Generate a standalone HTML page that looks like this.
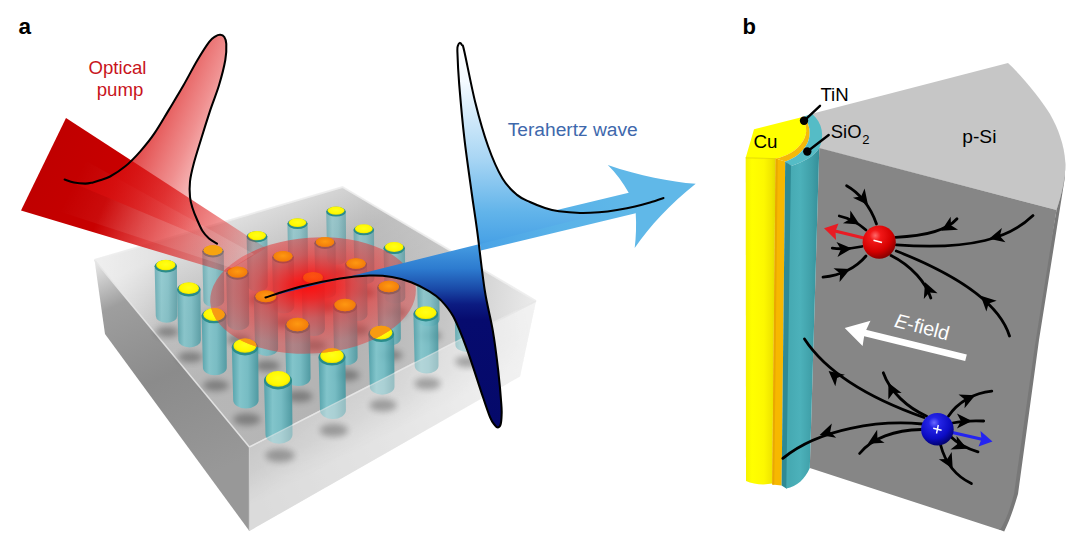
<!DOCTYPE html>
<html lang="en">
<head>
<meta charset="utf-8">
<title>Figure</title>
<style>
html,body{margin:0;padding:0;background:#fff;}
body{width:1080px;height:553px;overflow:hidden;position:relative;font-family:"Liberation Sans",Arial,sans-serif;}
svg{position:absolute;left:0;top:0;display:block;}
text{font-family:"Liberation Sans",Arial,sans-serif;}
</style>
</head>
<body>
<svg width="1080" height="553" viewBox="0 0 1080 553">
<defs>
  <filter id="blur3" x="-50%" y="-50%" width="200%" height="200%"><feGaussianBlur stdDeviation="3"/></filter>
  <filter id="blur2" x="-50%" y="-50%" width="200%" height="200%"><feGaussianBlur stdDeviation="1.6"/></filter>
  <filter id="blur6" x="-50%" y="-50%" width="200%" height="200%"><feGaussianBlur stdDeviation="6"/></filter>
  <linearGradient id="gTeal" x1="0" x2="1" y1="0" y2="0">
    <stop offset="0" stop-color="#4a9fa8"/>
    <stop offset="0.3" stop-color="#7cc6cd"/>
    <stop offset="0.6" stop-color="#70bdc5"/>
    <stop offset="1" stop-color="#44969f"/>
  </linearGradient>
  <radialGradient id="gYel" cx="0.5" cy="0.45" r="0.6">
    <stop offset="0" stop-color="#ffff1a"/>
    <stop offset="0.7" stop-color="#fff800"/>
    <stop offset="1" stop-color="#e2d800"/>
  </radialGradient>
  <radialGradient id="gOr" cx="0.5" cy="0.45" r="0.6">
    <stop offset="0" stop-color="#ff9a10"/>
    <stop offset="1" stop-color="#f07808"/>
  </radialGradient>
  <!-- glass box -->
  <linearGradient id="gTop" gradientUnits="userSpaceOnUse" x1="95" y1="260" x2="536" y2="301">
    <stop offset="0" stop-color="#dcdcdc"/>
    <stop offset="0.18" stop-color="#b8b8b8"/>
    <stop offset="0.6" stop-color="#b3b3b3"/>
    <stop offset="0.8" stop-color="#c6c6c6"/>
    <stop offset="1" stop-color="#ebebeb"/>
  </linearGradient>
  <linearGradient id="gTopHi" gradientUnits="userSpaceOnUse" x1="300" y1="330" x2="245" y2="215">
    <stop offset="0" stop-color="#fff" stop-opacity="0"/>
    <stop offset="0.5" stop-color="#fff" stop-opacity="0.10"/>
    <stop offset="1" stop-color="#fff" stop-opacity="0.55"/>
  </linearGradient>
  <linearGradient id="gLeft" gradientUnits="userSpaceOnUse" x1="95" y1="262" x2="200" y2="480">
    <stop offset="0" stop-color="#e8e8e8"/>
    <stop offset="0.2" stop-color="#9e9e9e"/>
    <stop offset="0.55" stop-color="#8b8b8b"/>
    <stop offset="1" stop-color="#989898"/>
  </linearGradient>
  <linearGradient id="gFront" gradientUnits="userSpaceOnUse" x1="250" y1="480" x2="530" y2="340">
    <stop offset="0" stop-color="#d2d2d2"/>
    <stop offset="0.5" stop-color="#e4e4e4"/>
    <stop offset="0.85" stop-color="#f6f6f6"/>
    <stop offset="1" stop-color="#fcfcfc"/>
  </linearGradient>
  <linearGradient id="gFrontBand" gradientUnits="userSpaceOnUse" x1="250" y1="447" x2="536" y2="301">
    <stop offset="0" stop-color="#bdbdbd"/>
    <stop offset="0.55" stop-color="#cfcfcf"/>
    <stop offset="0.85" stop-color="#ececec"/>
    <stop offset="1" stop-color="#f8f8f8"/>
  </linearGradient>
  <linearGradient id="gFrontFade" gradientUnits="userSpaceOnUse" x1="380" y1="380" x2="404" y2="427">
    <stop offset="0" stop-color="#8c8c8c" stop-opacity="0.5"/>
    <stop offset="0.45" stop-color="#8c8c8c" stop-opacity="0.34"/>
    <stop offset="0.8" stop-color="#8c8c8c" stop-opacity="0.1"/>
    <stop offset="1" stop-color="#8c8c8c" stop-opacity="0"/>
  </linearGradient>
  <linearGradient id="gFrontMask" gradientUnits="userSpaceOnUse" x1="250" y1="447" x2="536" y2="301">
    <stop offset="0" stop-color="#fff"/>
    <stop offset="0.5" stop-color="#bbb"/>
    <stop offset="0.85" stop-color="#333"/>
    <stop offset="1" stop-color="#000"/>
  </linearGradient>
  <mask id="mFront" maskUnits="userSpaceOnUse" x="240" y="290" width="310" height="250"><rect x="240" y="290" width="310" height="250" fill="url(#gFrontMask)"/></mask>
  <!-- red beam -->
  <linearGradient id="gBeam" gradientUnits="userSpaceOnUse" x1="44" y1="164" x2="262" y2="262">
    <stop offset="0" stop-color="#c00000" stop-opacity="1"/>
    <stop offset="0.3" stop-color="#c80000" stop-opacity="1"/>
    <stop offset="0.55" stop-color="#d80808" stop-opacity="0.72"/>
    <stop offset="0.8" stop-color="#e01010" stop-opacity="0.42"/>
    <stop offset="1" stop-color="#e81818" stop-opacity="0.12"/>
  </linearGradient>
  <linearGradient id="gBeamHi" gradientUnits="userSpaceOnUse" x1="80" y1="170" x2="240" y2="250">
    <stop offset="0" stop-color="#fff" stop-opacity="0"/>
    <stop offset="0.45" stop-color="#fff" stop-opacity="0.10"/>
    <stop offset="1" stop-color="#fff" stop-opacity="0.14"/>
  </linearGradient>
  <linearGradient id="gRedPulse" gradientUnits="userSpaceOnUse" x1="64" y1="180" x2="217" y2="244">
    <stop offset="0" stop-color="#d00000" stop-opacity="0.95"/>
    <stop offset="0.3" stop-color="#d81010" stop-opacity="0.8"/>
    <stop offset="0.6" stop-color="#e02020" stop-opacity="0.5"/>
    <stop offset="0.85" stop-color="#e83030" stop-opacity="0.18"/>
    <stop offset="1" stop-color="#f04040" stop-opacity="0.05"/>
  </linearGradient>
  <radialGradient id="gDisc" cx="0.49" cy="0.42" r="0.5">
    <stop offset="0" stop-color="#ff0a0a" stop-opacity="0.97"/>
    <stop offset="0.22" stop-color="#fa1414" stop-opacity="0.88"/>
    <stop offset="0.55" stop-color="#ec2c2c" stop-opacity="0.66"/>
    <stop offset="1" stop-color="#e23a3a" stop-opacity="0.47"/>
  </radialGradient>
  <!-- blue -->
  <linearGradient id="gBluePulse" gradientUnits="userSpaceOnUse" x1="0" y1="43" x2="0" y2="427">
    <stop offset="0" stop-color="#ffffff"/>
    <stop offset="0.10" stop-color="#f4faff"/>
    <stop offset="0.30" stop-color="#a9d6f4"/>
    <stop offset="0.44" stop-color="#62b4ea"/>
    <stop offset="0.513" stop-color="#4aa3e6"/>
    <stop offset="0.588" stop-color="#2d7bcf"/>
    <stop offset="0.64" stop-color="#1a4aa8"/>
    <stop offset="0.68" stop-color="#0c1c82"/>
    <stop offset="0.72" stop-color="#060b6e"/>
    <stop offset="1" stop-color="#05096a"/>
  </linearGradient>
  <linearGradient id="gBlueBeam" gradientUnits="userSpaceOnUse" x1="478" y1="240" x2="636" y2="204">
    <stop offset="0" stop-color="#4aa3e6"/>
    <stop offset="0.5" stop-color="#59b2e8"/>
    <stop offset="1" stop-color="#60b8e8"/>
  </linearGradient>
  <!-- panel b -->
  <linearGradient id="gCuSide" gradientUnits="userSpaceOnUse" x1="746" y1="0" x2="776" y2="0">
    <stop offset="0" stop-color="#f6f200"/>
    <stop offset="0.2" stop-color="#ffff00"/>
    <stop offset="0.6" stop-color="#fdf800"/>
    <stop offset="0.85" stop-color="#f0e600"/>
    <stop offset="1" stop-color="#e2d600"/>
  </linearGradient>
  <linearGradient id="gTealSide" gradientUnits="userSpaceOnUse" x1="790" y1="0" x2="819" y2="0">
    <stop offset="0" stop-color="#46aab3"/>
    <stop offset="0.35" stop-color="#4cb1ba"/>
    <stop offset="0.75" stop-color="#3f9fa8"/>
    <stop offset="1" stop-color="#358f99"/>
  </linearGradient>
  <radialGradient id="gRedBall" cx="0.38" cy="0.3" r="0.75">
    <stop offset="0" stop-color="#ff6a6a"/>
    <stop offset="0.22" stop-color="#f21818"/>
    <stop offset="0.65" stop-color="#d40000"/>
    <stop offset="1" stop-color="#7c0000"/>
  </radialGradient>
  <radialGradient id="gBlueBall" cx="0.4" cy="0.3" r="0.75">
    <stop offset="0" stop-color="#6a6aff"/>
    <stop offset="0.22" stop-color="#2424e6"/>
    <stop offset="0.65" stop-color="#0c0cc4"/>
    <stop offset="1" stop-color="#000060"/>
  </radialGradient>
  <path id="ah" d="M1.5,0 L-7.6,-4.5 L-5.2,0 L-7.6,4.5 Z"/>
</defs>
<rect width="1080" height="553" fill="#fff"/>

<g id="panelA">
<polygon points="342.5,187 536,301 520,377 345,262" fill="#f6f6f6" opacity="0.6"/>
<polygon points="94.5,260 249.4,447 249.4,531 105,334" fill="url(#gLeft)"/>
<polygon points="249.4,447 536,301 520,376.5 249.4,531" fill="url(#gFront)"/>
<polygon points="249.4,447 536,301 520,376.5 249.4,531" fill="url(#gFrontFade)" mask="url(#mFront)"/>
<polygon points="94.5,260 342.5,187 536,301 249.4,447" fill="url(#gTop)"/>
<polygon points="94.5,260 342.5,187 536,301 249.4,447" fill="url(#gTopHi)"/>
<polyline points="94.5,260 249.4,447 536,301" fill="none" stroke="#e4e4e4" stroke-width="1.6" opacity="0.9"/>
<polyline points="94.5,260 342.5,187 536,301" fill="none" stroke="#ededed" stroke-width="2" opacity="0.9"/>
<line x1="249.4" y1="447" x2="249.4" y2="531" stroke="#c9c9c9" stroke-width="1.2"/>
<ellipse cx="167.3" cy="331.9" rx="11.6" ry="5.2" fill="#000" opacity="0.3" filter="url(#blur3)"/>
<ellipse cx="214.5" cy="315.9" rx="11.2" ry="5.0" fill="#000" opacity="0.3" filter="url(#blur3)"/>
<ellipse cx="258.5" cy="299.9" rx="10.8" ry="4.8" fill="#000" opacity="0.3" filter="url(#blur3)"/>
<ellipse cx="298.9" cy="285.8" rx="10.5" ry="4.7" fill="#000" opacity="0.3" filter="url(#blur3)"/>
<ellipse cx="337.4" cy="272.8" rx="10.1" ry="4.5" fill="#000" opacity="0.3" filter="url(#blur3)"/>
<ellipse cx="190.4" cy="357.1" rx="12.2" ry="5.4" fill="#000" opacity="0.3" filter="url(#blur3)"/>
<ellipse cx="239.1" cy="339.5" rx="11.7" ry="5.3" fill="#000" opacity="0.3" filter="url(#blur3)"/>
<ellipse cx="284.6" cy="322.4" rx="11.3" ry="5.1" fill="#000" opacity="0.3" filter="url(#blur3)"/>
<ellipse cx="326.5" cy="306.9" rx="11.0" ry="4.9" fill="#000" opacity="0.3" filter="url(#blur3)"/>
<ellipse cx="365.2" cy="292.6" rx="10.6" ry="4.8" fill="#000" opacity="0.3" filter="url(#blur3)"/>
<ellipse cx="215.8" cy="385.5" rx="12.8" ry="5.8" fill="#000" opacity="0.3" filter="url(#blur3)"/>
<ellipse cx="267.5" cy="365.8" rx="12.4" ry="5.5" fill="#000" opacity="0.3" filter="url(#blur3)"/>
<ellipse cx="314.6" cy="345.4" rx="11.9" ry="5.3" fill="#000" opacity="0.3" filter="url(#blur3)"/>
<ellipse cx="357.6" cy="330.3" rx="11.5" ry="5.2" fill="#000" opacity="0.3" filter="url(#blur3)"/>
<ellipse cx="395.8" cy="312.4" rx="11.1" ry="5.0" fill="#000" opacity="0.3" filter="url(#blur3)"/>
<ellipse cx="246.9" cy="419.4" rx="13.6" ry="6.1" fill="#000" opacity="0.3" filter="url(#blur3)"/>
<ellipse cx="299.3" cy="396.4" rx="13.1" ry="5.9" fill="#000" opacity="0.3" filter="url(#blur3)"/>
<ellipse cx="346.7" cy="375.2" rx="12.6" ry="5.6" fill="#000" opacity="0.3" filter="url(#blur3)"/>
<ellipse cx="390.4" cy="355.2" rx="12.1" ry="5.4" fill="#000" opacity="0.3" filter="url(#blur3)"/>
<ellipse cx="429.6" cy="335.7" rx="11.6" ry="5.2" fill="#000" opacity="0.3" filter="url(#blur3)"/>
<ellipse cx="280.0" cy="455.5" rx="14.5" ry="6.5" fill="#000" opacity="0.3" filter="url(#blur3)"/>
<ellipse cx="333.9" cy="430.3" rx="13.9" ry="6.2" fill="#000" opacity="0.3" filter="url(#blur3)"/>
<ellipse cx="383.1" cy="405.3" rx="13.3" ry="6.0" fill="#000" opacity="0.3" filter="url(#blur3)"/>
<ellipse cx="427.5" cy="383.6" rx="12.8" ry="5.7" fill="#000" opacity="0.3" filter="url(#blur3)"/>
<ellipse cx="467.7" cy="361.7" rx="12.3" ry="5.5" fill="#000" opacity="0.3" filter="url(#blur3)"/>
<path d="M326.2,211.0 L327.2,259.5 A8.8,4.9 0 0 0 346.2,259.5 L345.8,211.0 Z" fill="url(#gTeal)" opacity="0.60"/>
<ellipse cx="336.0" cy="211.7" rx="9.8" ry="4.9" fill="#2a8c8a"/><ellipse cx="336.0" cy="210.6" rx="8.5" ry="4.1" fill="url(#gYel)"/>
<path d="M287.4,223.0 L288.5,272.0 A9.1,5.2 0 0 0 308.0,272.0 L307.6,223.0 Z" fill="url(#gTeal)" opacity="0.63"/>
<ellipse cx="297.5" cy="223.7" rx="10.1" ry="5.2" fill="#2a8c8a"/><ellipse cx="297.5" cy="222.6" rx="8.8" ry="4.4" fill="url(#gYel)"/>
<path d="M353.5,229.2 L354.6,278.5 A9.3,5.3 0 0 0 374.4,278.5 L374.0,229.2 Z" fill="url(#gTeal)" opacity="0.65"/>
<ellipse cx="363.8" cy="230.0" rx="10.3" ry="5.3" fill="#2a8c8a"/><ellipse cx="363.8" cy="228.8" rx="8.9" ry="4.5" fill="url(#gYel)"/>
<path d="M246.6,236.0 L247.7,285.5 A9.4,5.5 0 0 0 267.8,285.5 L267.4,236.0 Z" fill="url(#gTeal)" opacity="0.66"/>
<ellipse cx="257.0" cy="236.7" rx="10.4" ry="5.5" fill="#2a8c8a"/><ellipse cx="257.0" cy="235.6" rx="9.1" ry="4.7" fill="url(#gYel)"/>
<path d="M314.4,242.5 L315.6,292.2 A9.6,5.7 0 0 0 336.0,292.2 L335.6,242.5 Z" fill="url(#gTeal)" opacity="0.68"/>
<ellipse cx="325.0" cy="243.3" rx="10.6" ry="5.7" fill="#2a8c8a"/><ellipse cx="325.0" cy="242.0" rx="9.2" ry="4.8" fill="url(#gYel)"/>
<path d="M383.5,247.5 L384.7,297.4 A9.7,5.8 0 0 0 405.3,297.4 L405.0,247.5 Z" fill="url(#gTeal)" opacity="0.69"/>
<ellipse cx="394.2" cy="248.3" rx="10.7" ry="5.8" fill="#2a8c8a"/><ellipse cx="394.2" cy="247.0" rx="9.3" ry="4.9" fill="url(#gYel)"/>
<path d="M202.2,250.8 L203.4,300.8 A9.8,5.9 0 0 0 224.2,300.8 L223.8,250.8 Z" fill="url(#gTeal)" opacity="0.70"/>
<ellipse cx="213.0" cy="251.5" rx="10.8" ry="5.9" fill="#2a8c8a"/><ellipse cx="213.0" cy="250.3" rx="9.4" ry="5.0" fill="url(#gYel)"/>
<path d="M272.1,256.8 L273.2,307.0 A9.9,6.0 0 0 0 294.3,307.0 L293.9,256.8 Z" fill="url(#gTeal)" opacity="0.71"/>
<ellipse cx="283.0" cy="257.5" rx="10.9" ry="6.0" fill="#2a8c8a"/><ellipse cx="283.0" cy="256.3" rx="9.5" ry="5.2" fill="url(#gYel)"/>
<path d="M344.9,264.0 L346.1,314.5 A10.1,6.2 0 0 0 367.5,314.5 L367.1,264.0 Z" fill="url(#gTeal)" opacity="0.73"/>
<ellipse cx="356.0" cy="264.8" rx="11.1" ry="6.2" fill="#2a8c8a"/><ellipse cx="356.0" cy="263.5" rx="9.7" ry="5.3" fill="url(#gYel)"/>
<path d="M154.6,265.5 L155.8,316.1 A10.2,6.2 0 0 0 177.3,316.1 L176.9,265.5 Z" fill="url(#gTeal)" opacity="0.74"/>
<ellipse cx="165.8" cy="266.3" rx="11.2" ry="6.2" fill="#2a8c8a"/><ellipse cx="165.8" cy="265.0" rx="9.7" ry="5.3" fill="url(#gYel)"/>
<path d="M416.8,269.0 L418.0,319.7 A10.2,6.3 0 0 0 439.6,319.7 L439.2,269.0 Z" fill="url(#gTeal)" opacity="0.74"/>
<ellipse cx="428.0" cy="269.8" rx="11.2" ry="6.3" fill="#2a8c8a"/><ellipse cx="428.0" cy="268.5" rx="9.8" ry="5.4" fill="url(#gYel)"/>
<path d="M226.2,272.5 L227.4,323.4 A10.3,6.4 0 0 0 249.2,323.4 L248.8,272.5 Z" fill="url(#gTeal)" opacity="0.75"/>
<ellipse cx="237.5" cy="273.3" rx="11.3" ry="6.4" fill="#2a8c8a"/><ellipse cx="237.5" cy="272.0" rx="9.9" ry="5.5" fill="url(#gYel)"/>
<path d="M301.5,278.0 L302.8,329.1 A10.5,6.5 0 0 0 324.9,329.1 L324.5,278.0 Z" fill="url(#gTeal)" opacity="0.77"/>
<ellipse cx="313.0" cy="278.8" rx="11.5" ry="6.5" fill="#2a8c8a"/><ellipse cx="313.0" cy="277.5" rx="10.0" ry="5.6" fill="url(#gYel)"/>
<path d="M377.1,287.0 L378.3,338.4 A10.7,6.7 0 0 0 400.9,338.4 L400.4,287.0 Z" fill="url(#gTeal)" opacity="0.79"/>
<ellipse cx="388.8" cy="287.8" rx="11.7" ry="6.7" fill="#2a8c8a"/><ellipse cx="388.8" cy="286.5" rx="10.2" ry="5.8" fill="url(#gYel)"/>
<path d="M177.0,288.8 L178.3,340.2 A10.7,6.8 0 0 0 200.9,340.2 L200.5,288.8 Z" fill="url(#gTeal)" opacity="0.79"/>
<ellipse cx="188.8" cy="289.6" rx="11.7" ry="6.8" fill="#2a8c8a"/><ellipse cx="188.8" cy="288.2" rx="10.2" ry="5.9" fill="url(#gYel)"/>
<path d="M454.2,293.0 L455.4,344.7 A10.8,6.9 0 0 0 478.3,344.7 L477.8,293.0 Z" fill="url(#gTeal)" opacity="0.80"/>
<ellipse cx="466.0" cy="293.8" rx="11.8" ry="6.9" fill="#2a8c8a"/><ellipse cx="466.0" cy="292.5" rx="10.3" ry="6.0" fill="url(#gYel)"/>
<path d="M253.8,296.8 L255.1,348.5 A10.9,7.0 0 0 0 278.1,348.5 L277.7,296.8 Z" fill="url(#gTeal)" opacity="0.81"/>
<ellipse cx="265.8" cy="297.6" rx="11.9" ry="7.0" fill="#2a8c8a"/><ellipse cx="265.8" cy="296.2" rx="10.4" ry="6.0" fill="url(#gYel)"/>
<path d="M332.9,305.5 L334.2,357.6 A11.1,7.2 0 0 0 357.6,357.6 L357.1,305.5 Z" fill="url(#gTeal)" opacity="0.84"/>
<ellipse cx="345.0" cy="306.4" rx="12.1" ry="7.2" fill="#2a8c8a"/><ellipse cx="345.0" cy="305.0" rx="10.6" ry="6.2" fill="url(#gYel)"/>
<path d="M413.4,313.2 L414.7,365.7 A11.3,7.4 0 0 0 438.5,365.7 L438.1,313.2 Z" fill="url(#gTeal)" opacity="0.86"/>
<ellipse cx="425.8" cy="314.1" rx="12.3" ry="7.4" fill="#2a8c8a"/><ellipse cx="425.8" cy="312.7" rx="10.8" ry="6.4" fill="url(#gYel)"/>
<path d="M201.6,315.0 L202.9,367.5 A11.4,7.4 0 0 0 226.8,367.5 L226.4,315.0 Z" fill="url(#gTeal)" opacity="0.86"/>
<ellipse cx="214.0" cy="315.9" rx="12.4" ry="7.4" fill="#2a8c8a"/><ellipse cx="214.0" cy="314.5" rx="10.8" ry="6.5" fill="url(#gYel)"/>
<path d="M284.9,325.0 L286.2,377.9 A11.6,7.7 0 0 0 310.6,377.9 L310.1,325.0 Z" fill="url(#gTeal)" opacity="0.89"/>
<ellipse cx="297.5" cy="325.9" rx="12.6" ry="7.7" fill="#2a8c8a"/><ellipse cx="297.5" cy="324.5" rx="11.0" ry="6.7" fill="url(#gYel)"/>
<path d="M368.4,333.2 L369.8,386.5 A11.8,7.9 0 0 0 394.5,386.5 L394.1,333.2 Z" fill="url(#gTeal)" opacity="0.90"/>
<ellipse cx="381.2" cy="334.2" rx="12.8" ry="7.9" fill="#2a8c8a"/><ellipse cx="381.2" cy="332.7" rx="11.2" ry="6.9" fill="url(#gYel)"/>
<path d="M231.8,346.2 L233.2,400.0 A12.2,8.2 0 0 0 258.6,400.0 L258.2,346.2 Z" fill="url(#gTeal)" opacity="0.90"/>
<ellipse cx="245.0" cy="347.2" rx="13.2" ry="8.2" fill="#2a8c8a"/><ellipse cx="245.0" cy="345.7" rx="11.5" ry="7.1" fill="url(#gYel)"/>
<path d="M318.6,356.2 L320.0,410.3 A12.4,8.4 0 0 0 345.9,410.3 L345.4,356.2 Z" fill="url(#gTeal)" opacity="0.90"/>
<ellipse cx="332.0" cy="357.2" rx="13.4" ry="8.4" fill="#2a8c8a"/><ellipse cx="332.0" cy="355.7" rx="11.7" ry="7.4" fill="url(#gYel)"/>
<path d="M264.0,379.5 L265.5,434.5 A13.0,9.0 0 0 0 292.5,434.5 L292.0,379.5 Z" fill="url(#gTeal)" opacity="0.90"/>
<ellipse cx="278.0" cy="380.5" rx="14.0" ry="9.0" fill="#2a8c8a"/><ellipse cx="278.0" cy="378.9" rx="12.2" ry="7.9" fill="url(#gYel)"/>
<polygon points="249.4,447 536,301 520,376.5 249.4,531" fill="#e6e6e6" opacity="0.45"/>
<polyline points="249.4,447 536,301" fill="none" stroke="#e8e8e8" stroke-width="1.2" opacity="0.55"/>
<ellipse cx="280.0" cy="455.5" rx="14.5" ry="6.5" fill="#000" opacity="0.14" filter="url(#blur3)"/>
<ellipse cx="333.9" cy="430.3" rx="13.9" ry="6.2" fill="#000" opacity="0.14" filter="url(#blur3)"/>
<ellipse cx="383.1" cy="405.3" rx="13.3" ry="6.0" fill="#000" opacity="0.14" filter="url(#blur3)"/>
<ellipse cx="427.5" cy="383.6" rx="12.8" ry="5.7" fill="#000" opacity="0.14" filter="url(#blur3)"/>
<ellipse cx="467.7" cy="361.7" rx="12.3" ry="5.5" fill="#000" opacity="0.14" filter="url(#blur3)"/>
<ellipse cx="313" cy="295.5" rx="103" ry="58" fill="url(#gDisc)" transform="rotate(-4 313 295)"/>
<ellipse cx="237.5" cy="272.0" rx="9.9" ry="5.5" fill="url(#gOr)" opacity="0.95"/>
<ellipse cx="283.0" cy="256.3" rx="9.5" ry="5.2" fill="url(#gOr)" opacity="0.95"/>
<ellipse cx="325.0" cy="242.0" rx="9.2" ry="4.8" fill="url(#gOr)" opacity="0.95"/>
<ellipse cx="265.8" cy="296.2" rx="10.4" ry="6.0" fill="url(#gOr)" opacity="0.95"/>
<ellipse cx="313.0" cy="277.5" rx="10.0" ry="5.6" fill="url(#gOr)" opacity="0.35"/>
<ellipse cx="356.0" cy="263.5" rx="9.7" ry="5.3" fill="url(#gOr)" opacity="0.95"/>
<ellipse cx="297.5" cy="324.5" rx="11.0" ry="6.7" fill="url(#gOr)" opacity="0.95"/>
<ellipse cx="345.0" cy="305.0" rx="10.6" ry="6.2" fill="url(#gOr)" opacity="0.95"/>
<ellipse cx="388.8" cy="286.5" rx="10.2" ry="5.8" fill="url(#gOr)" opacity="0.95"/>
<clipPath id="cDisc"><ellipse cx="313" cy="295.5" rx="103" ry="58" transform="rotate(-4 313 295)"/></clipPath>
<g clip-path="url(#cDisc)">
<ellipse cx="257.0" cy="235.6" rx="9.1" ry="4.7" fill="#f89a10" opacity="0.9"/>
<ellipse cx="297.5" cy="222.6" rx="8.8" ry="4.4" fill="#f89a10" opacity="0.9"/>
<ellipse cx="214.0" cy="314.5" rx="10.8" ry="6.5" fill="#f89a10" opacity="0.9"/>
<ellipse cx="428.0" cy="268.5" rx="9.8" ry="5.4" fill="#f89a10" opacity="0.9"/>
<ellipse cx="381.2" cy="332.7" rx="11.2" ry="6.9" fill="#f89a10" opacity="0.9"/>
<ellipse cx="332.0" cy="355.7" rx="11.7" ry="7.4" fill="#f89a10" opacity="0.9"/>
<ellipse cx="363.8" cy="228.8" rx="8.9" ry="4.5" fill="#f89a10" opacity="0.9"/>
<ellipse cx="394.2" cy="247.0" rx="9.3" ry="4.9" fill="#f89a10" opacity="0.9"/>
<ellipse cx="213.0" cy="250.3" rx="9.4" ry="5.0" fill="#f89a10" opacity="0.9"/>
<ellipse cx="188.8" cy="288.2" rx="10.2" ry="5.9" fill="#f89a10" opacity="0.9"/>
<ellipse cx="245.0" cy="345.7" rx="11.5" ry="7.1" fill="#f89a10" opacity="0.9"/>
<ellipse cx="425.8" cy="312.7" rx="10.8" ry="6.4" fill="#f89a10" opacity="0.9"/>
</g>
<polygon points="66,118 21,210.5 226,272 266,248" fill="url(#gBeam)"/>
<polygon points="66,150 40,205 232,268 254,254" fill="url(#gBeamHi)"/>
<ellipse cx="213.0" cy="250.3" rx="9.4" ry="5.0" fill="#f7a410"/>
<path d="M64.6,179.5 C66.2,180.0 70.5,181.9 74.0,182.6 C77.5,183.3 82.1,183.6 85.3,183.6 C88.5,183.6 90.5,182.9 93.0,182.4 C95.5,181.9 97.2,181.3 100.0,180.3 C102.8,179.3 105.9,178.8 110.1,176.5 C114.3,174.2 120.2,170.5 125.3,166.3 C130.4,162.1 135.7,156.6 140.5,151.1 C145.3,145.6 149.8,140.2 154.4,133.4 C159.1,126.7 163.6,118.6 168.4,110.6 C173.2,102.6 178.7,93.7 183.5,85.3 C188.3,76.9 193.2,67.2 197.5,60.0 C201.8,52.8 206.2,45.9 209.2,41.9 C212.2,37.9 213.7,37.5 215.5,36.3 C217.3,35.1 218.8,34.7 220.3,34.8 C221.8,34.9 223.3,35.5 224.3,37.0 C225.3,38.5 226.1,40.1 226.3,43.9 C226.5,47.7 226.5,53.1 225.3,60.0 C224.1,66.9 221.5,76.9 219.0,85.3 C216.5,93.7 213.0,101.7 210.1,110.6 C207.2,119.5 204.0,129.6 201.3,138.5 C198.6,147.4 195.6,156.6 193.7,163.8 C191.8,171.0 190.6,176.0 190.0,181.5 C189.4,187.0 189.6,192.6 190.0,197.0 C190.4,201.4 191.3,204.2 192.5,208.0 C193.7,211.8 195.3,215.7 197.0,219.5 C198.7,223.3 200.5,227.8 202.5,231.0 C204.5,234.2 206.6,236.4 209.0,238.5 C211.4,240.6 215.7,242.8 217.0,243.6 Z" fill="url(#gRedPulse)"/>
<path d="M64.6,179.5 C66.2,180.0 70.5,181.9 74.0,182.6 C77.5,183.3 82.1,183.6 85.3,183.6 C88.5,183.6 90.5,182.9 93.0,182.4 C95.5,181.9 97.2,181.3 100.0,180.3 C102.8,179.3 105.9,178.8 110.1,176.5 C114.3,174.2 120.2,170.5 125.3,166.3 C130.4,162.1 135.7,156.6 140.5,151.1 C145.3,145.6 149.8,140.2 154.4,133.4 C159.1,126.7 163.6,118.6 168.4,110.6 C173.2,102.6 178.7,93.7 183.5,85.3 C188.3,76.9 193.2,67.2 197.5,60.0 C201.8,52.8 206.2,45.9 209.2,41.9 C212.2,37.9 213.7,37.5 215.5,36.3 C217.3,35.1 218.8,34.7 220.3,34.8 C221.8,34.9 223.3,35.5 224.3,37.0 C225.3,38.5 226.1,40.1 226.3,43.9 C226.5,47.7 226.5,53.1 225.3,60.0 C224.1,66.9 221.5,76.9 219.0,85.3 C216.5,93.7 213.0,101.7 210.1,110.6 C207.2,119.5 204.0,129.6 201.3,138.5 C198.6,147.4 195.6,156.6 193.7,163.8 C191.8,171.0 190.6,176.0 190.0,181.5 C189.4,187.0 189.6,192.6 190.0,197.0 C190.4,201.4 191.3,204.2 192.5,208.0 C193.7,211.8 195.3,215.7 197.0,219.5 C198.7,223.3 200.5,227.8 202.5,231.0 C204.5,234.2 206.6,236.4 209.0,238.5 C211.4,240.6 215.7,242.8 217.0,243.6" fill="none" stroke="#000" stroke-width="2.05" stroke-linecap="round" stroke-linejoin="round"/>
<polygon points="478,229 628.7,192.7 640,200 635.7,213.2 480.8,250.6" fill="url(#gBlueBeam)"/>
<path d="M695.7,183.8 C670,181.5 640,176 607.8,164.9 C616,173 623,182.5 628.7,192.7 L626,200 L635.7,213.2 C636.5,225 636,237 634.7,248 C650,226 670,204 695.7,183.8 Z" fill="#60b8e8"/>
<path d="M265.5,297.5 C271.2,295.7 287.6,289.9 300.0,286.8 C312.4,283.7 328.4,280.5 340.0,278.6 C351.6,276.7 361.0,275.9 369.6,275.6 C378.2,275.3 385.0,275.9 391.9,277.0 C398.8,278.1 404.9,279.8 411.1,282.2 C417.3,284.6 424.0,288.1 428.9,291.1 C433.8,294.1 436.6,295.7 440.7,300.0 C444.8,304.3 449.2,308.8 453.6,317.1 C458.0,325.4 462.6,337.4 467.1,349.6 C471.6,361.8 476.9,379.0 480.7,390.3 C484.5,401.6 487.7,411.6 490.1,417.4 C492.5,423.2 493.7,423.6 495.0,425.3 C496.3,427.0 497.1,427.5 498.0,427.4 C498.9,427.3 500.0,426.6 500.6,424.5 C501.2,422.4 501.5,418.4 501.6,415.0 C501.7,411.6 501.9,411.3 501.3,404.0 C500.8,396.7 499.7,383.5 498.3,371.3 C496.9,359.1 495.1,344.2 492.8,330.7 C490.5,317.1 487.3,306.7 484.7,290.0 C482.1,273.3 479.3,246.6 477.1,230.4 C474.9,214.2 473.8,208.3 471.7,193.0 C469.6,177.7 466.5,156.8 464.4,138.7 C462.3,120.6 460.4,98.8 459.2,84.3 C458.0,69.8 457.6,58.5 457.4,52.0 C457.2,45.5 457.6,47.0 458.0,45.5 C458.4,44.0 459.0,43.0 459.7,42.9 C460.4,42.8 461.2,43.5 462.0,45.0 C462.8,46.5 462.2,42.1 464.4,51.7 C466.6,61.3 471.4,86.8 475.3,102.5 C479.2,118.2 483.5,133.3 488.0,146.0 C492.5,158.7 497.7,170.4 502.5,178.6 C507.3,186.8 512.4,191.0 517.0,194.9 C521.6,198.8 525.3,199.8 530.0,202.0 C534.7,204.2 540.2,206.4 545.0,208.0 C549.8,209.6 553.2,210.5 559.0,211.3 C564.8,212.1 573.3,212.8 580.0,213.0 C586.7,213.2 592.8,212.8 599.0,212.3 C605.2,211.8 611.0,211.0 617.0,210.0 C623.0,209.0 629.5,207.8 635.0,206.5 C640.5,205.2 645.2,203.9 650.0,202.5 C654.8,201.1 661.2,198.8 663.5,198.0 Z" fill="url(#gBluePulse)"/>
<path d="M265.5,297.5 C271.2,295.7 287.6,289.9 300.0,286.8 C312.4,283.7 328.4,280.5 340.0,278.6 C351.6,276.7 361.0,275.9 369.6,275.6 C378.2,275.3 385.0,275.9 391.9,277.0 C398.8,278.1 404.9,279.8 411.1,282.2 C417.3,284.6 424.0,288.1 428.9,291.1 C433.8,294.1 436.6,295.7 440.7,300.0 C444.8,304.3 449.2,308.8 453.6,317.1 C458.0,325.4 462.6,337.4 467.1,349.6 C471.6,361.8 476.9,379.0 480.7,390.3 C484.5,401.6 487.7,411.6 490.1,417.4 C492.5,423.2 493.7,423.6 495.0,425.3 C496.3,427.0 497.1,427.5 498.0,427.4 C498.9,427.3 500.0,426.6 500.6,424.5 C501.2,422.4 501.5,418.4 501.6,415.0 C501.7,411.6 501.9,411.3 501.3,404.0 C500.8,396.7 499.7,383.5 498.3,371.3 C496.9,359.1 495.1,344.2 492.8,330.7 C490.5,317.1 487.3,306.7 484.7,290.0 C482.1,273.3 479.3,246.6 477.1,230.4 C474.9,214.2 473.8,208.3 471.7,193.0 C469.6,177.7 466.5,156.8 464.4,138.7 C462.3,120.6 460.4,98.8 459.2,84.3 C458.0,69.8 457.6,58.5 457.4,52.0 C457.2,45.5 457.6,47.0 458.0,45.5 C458.4,44.0 459.0,43.0 459.7,42.9 C460.4,42.8 461.2,43.5 462.0,45.0 C462.8,46.5 462.2,42.1 464.4,51.7 C466.6,61.3 471.4,86.8 475.3,102.5 C479.2,118.2 483.5,133.3 488.0,146.0 C492.5,158.7 497.7,170.4 502.5,178.6 C507.3,186.8 512.4,191.0 517.0,194.9 C521.6,198.8 525.3,199.8 530.0,202.0 C534.7,204.2 540.2,206.4 545.0,208.0 C549.8,209.6 553.2,210.5 559.0,211.3 C564.8,212.1 573.3,212.8 580.0,213.0 C586.7,213.2 592.8,212.8 599.0,212.3 C605.2,211.8 611.0,211.0 617.0,210.0 C623.0,209.0 629.5,207.8 635.0,206.5 C640.5,205.2 645.2,203.9 650.0,202.5 C654.8,201.1 661.2,198.8 663.5,198.0" fill="none" stroke="#000" stroke-width="2.05" stroke-linecap="round" stroke-linejoin="round"/>
<text x="18.4" y="33.9" font-size="22.5" font-weight="bold" fill="#000">a</text>
<text x="117.5" y="74.2" font-size="18.6" fill="#c8141c" text-anchor="middle">Optical</text>
<text x="120" y="96" font-size="18.6" fill="#c8141c" text-anchor="middle">pump</text>
<text x="507.7" y="135.5" font-size="19.2" fill="#3e68ac">Terahertz wave</text>
</g>
<g id="panelB">
<path d="M810,114.3 L1008,63 C1024,78 1040,98 1050,114 C1058,128 1064.3,145 1065.3,162 C1065.8,176 1062,194 1056.5,210 L818,148 Z" fill="#c6c6c6"/>
<path d="M1065.3,162 C1065.8,176 1062,194 1056.5,210 L999,529.5 L1004.2,531.4 C1009,522 1014,508 1018,494 L1039,340 L1064.8,178 Z" fill="#787878"/>
<path d="M819.3,148 L1056.5,210 L1035,345 L1014,494 C1010,510 1005,522 1000,530 L809.8,468 Z" fill="#868686"/>
<path d="M754,129.3 L800.5,117.5 C806.5,124 808.5,132 803,141 C797,151 786,156.5 775.6,158.6 L745.7,157.8 Z" fill="#ffff00"/>
<path d="M745.7,157.8 L775.6,158.6 L772.2,483.6 C764,485.2 753,484.4 746,481 Z" fill="url(#gCuSide)"/>
<path d="M745.7,157.8 L775.6,158.6" stroke="#e6dc00" stroke-width="1" fill="none"/>
<path d="M800.5,117.3 C806.5,124 808.5,132 803,141 C797,151 786,156.5 775.6,158.6 L785.2,161.5 C795,158.5 803,152 807.5,143 C811.5,134 810,124 803.8,116.4 Z" fill="#f5b90a"/>
<path d="M775.6,158.6 L785.2,161.5 L781.6,485.6 L772.2,484.6 Z" fill="#f7b800"/>
<path d="M775.6,158.6 L777.8,159.3 L774.3,484.8 L772.2,484.6 Z" fill="#eaa800"/>
<path d="M803.8,116.4 C810,124 811.5,134 807.5,143 C803,152 795,158.5 785.2,161.5 L791,166 C803,162 814,156.5 819.3,148 C824.5,137 823,123 812,113.8 Z" fill="#55bcc6"/>
<path d="M785.2,161.5 L792.5,166.5 L787,488.4 L786.3,488.6 L781.6,485.6 Z" fill="#2f8a94"/>
<path d="M791,166 C803,162 814,156.5 819.3,148 L809.8,468 C805,479 797,486.5 786.3,488.6 Z" fill="url(#gTealSide)"/>
<line x1="804" y1="120.8" x2="820" y2="105.8" stroke="#000" stroke-width="2.4" stroke-linecap="round"/>
<circle cx="804" cy="120.8" r="4.2" fill="#000"/>
<line x1="807.3" y1="151.5" x2="828.7" y2="135" stroke="#000" stroke-width="2.4" stroke-linecap="round"/>
<circle cx="807.3" cy="151.5" r="4.2" fill="#000"/>
<path d="M846.6,185.7 C858,192 870,205 876.5,224" fill="none" stroke="#000" stroke-width="2.8" stroke-linecap="round"/>
<use href="#ah" transform="translate(866.5,203.0) rotate(52.0) scale(1.65)" fill="#000"/>
<path d="M839.3,216 C849,218 858,223 866,230" fill="none" stroke="#000" stroke-width="2.8" stroke-linecap="round"/>
<use href="#ah" transform="translate(857.5,223.2) rotate(30.0) scale(1.65)" fill="#000"/>
<path d="M832.3,248.2 C842,249.5 852,248.5 862,246.5" fill="none" stroke="#000" stroke-width="2.8" stroke-linecap="round"/>
<use href="#ah" transform="translate(849.5,248.6) rotate(-4.0) scale(1.65)" fill="#000"/>
<path d="M823,277.2 C840,275.5 856,268 866,256" fill="none" stroke="#000" stroke-width="2.8" stroke-linecap="round"/>
<use href="#ah" transform="translate(848.0,270.0) rotate(-24.0) scale(1.65)" fill="#000"/>
<path d="M957,218.8 C948,229 930,236 895.5,237.3" fill="none" stroke="#000" stroke-width="2.8" stroke-linecap="round"/>
<use href="#ah" transform="translate(943.5,229.5) rotate(150.0) scale(1.65)" fill="#000"/>
<path d="M1033,215.6 C1018,230 1000,237 985,240.5 C960,246.5 930,247.5 896.3,244.8" fill="none" stroke="#000" stroke-width="2.8" stroke-linecap="round"/>
<use href="#ah" transform="translate(991.5,238.2) rotate(166.0) scale(1.65)" fill="#000"/>
<path d="M930.8,298 C926,283 912,266 891,255.5" fill="none" stroke="#000" stroke-width="2.8" stroke-linecap="round"/>
<use href="#ah" transform="translate(926.0,284.5) rotate(-112.0) scale(1.65)" fill="#000"/>
<path d="M1009.5,336 C1002,312 975,282 896.3,251" fill="none" stroke="#000" stroke-width="2.8" stroke-linecap="round"/>
<use href="#ah" transform="translate(982.5,297.5) rotate(-136.0) scale(1.65)" fill="#000"/>
<path d="M924,417.5 C880,402 830,378 804.5,339" fill="none" stroke="#000" stroke-width="2.8" stroke-linecap="round"/>
<use href="#ah" transform="translate(830.5,372.5) rotate(-140.0) scale(1.65)" fill="#000"/>
<path d="M926.7,416.2 C908,408 890,392 883.3,372.8" fill="none" stroke="#000" stroke-width="2.8" stroke-linecap="round"/>
<use href="#ah" transform="translate(889.5,385.0) rotate(-116.0) scale(1.65)" fill="#000"/>
<path d="M948.4,416.2 C958,402 974,393 991.8,391.2" fill="none" stroke="#000" stroke-width="2.8" stroke-linecap="round"/>
<use href="#ah" transform="translate(973.0,396.3) rotate(-24.0) scale(1.65)" fill="#000"/>
<path d="M952.5,423 C962,421 972,420.5 983.7,421" fill="none" stroke="#000" stroke-width="2.8" stroke-linecap="round"/>
<use href="#ah" transform="translate(969.5,421.0) rotate(0.0) scale(1.65)" fill="#000"/>
<path d="M922.6,424 C880,420 820,428 782.8,458.3" fill="none" stroke="#000" stroke-width="2.8" stroke-linecap="round"/>
<use href="#ah" transform="translate(822.0,434.3) rotate(163.0) scale(1.65)" fill="#000"/>
<path d="M921.2,429.5 C895,430 872,438 859.6,453.5" fill="none" stroke="#000" stroke-width="2.8" stroke-linecap="round"/>
<use href="#ah" transform="translate(870.0,442.5) rotate(150.0) scale(1.65)" fill="#000"/>
<path d="M950,436 C958,444 968,449 978,451.8" fill="none" stroke="#000" stroke-width="2.8" stroke-linecap="round"/>
<use href="#ah" transform="translate(965.0,447.8) rotate(24.0) scale(1.65)" fill="#000"/>
<path d="M940.6,445 C945,462 956,476 971.4,483.6" fill="none" stroke="#000" stroke-width="2.8" stroke-linecap="round"/>
<use href="#ah" transform="translate(951.5,466.5) rotate(60.0) scale(1.65)" fill="#000"/>
<line x1="868" y1="239" x2="834" y2="230.8" stroke="#e81c24" stroke-width="3.2"/>
<path d="M824,228.3 L838.5,223.5 L835.5,231.2 L836,240 Z" fill="#e81c24"/>
<circle cx="879.2" cy="242.2" r="16.6" fill="url(#gRedBall)"/>
<line x1="873.5" y1="240.3" x2="882" y2="242.4" stroke="#fff" stroke-width="1.5"/>
<line x1="948" y1="431.5" x2="983" y2="439.5" stroke="#2424f0" stroke-width="3.2"/>
<path d="M992.5,441.6 L978.5,446.5 L981.5,439.2 L980.5,431 Z" fill="#2424f0"/>
<circle cx="937.4" cy="429.2" r="16.3" fill="url(#gBlueBall)"/>
<path d="M933.2,428.3 L941.6,430.2 M938.3,425 L936.5,433.5" stroke="#fff" stroke-width="1.4" fill="none"/>
<line x1="966" y1="357.8" x2="862" y2="332.3" stroke="#fff" stroke-width="6.6"/>
<path d="M844.7,328 L870.5,320.8 L864.6,333.2 L862.6,346 Z" fill="#fff"/>
<g transform="translate(893.4,326.4) rotate(14.6)"><text x="0" y="0" font-size="19.7" fill="#fff"><tspan font-style="italic">E</tspan>-field</text></g>
<text x="742.4" y="34" font-size="22" font-weight="bold" fill="#000">b</text>
<text x="820.4" y="101.3" font-size="18.6" fill="#000">TiN</text>
<text x="830.8" y="138" font-size="18.4" fill="#000">SiO<tspan font-size="13" dx="0.8" dy="6.2">2</tspan></text>
<text x="753.5" y="148" font-size="18.8" fill="#000">Cu</text>
<text x="962.3" y="142.6" font-size="19.2" fill="#000">p-Si</text>
</g>
</svg>
</body>
</html>
